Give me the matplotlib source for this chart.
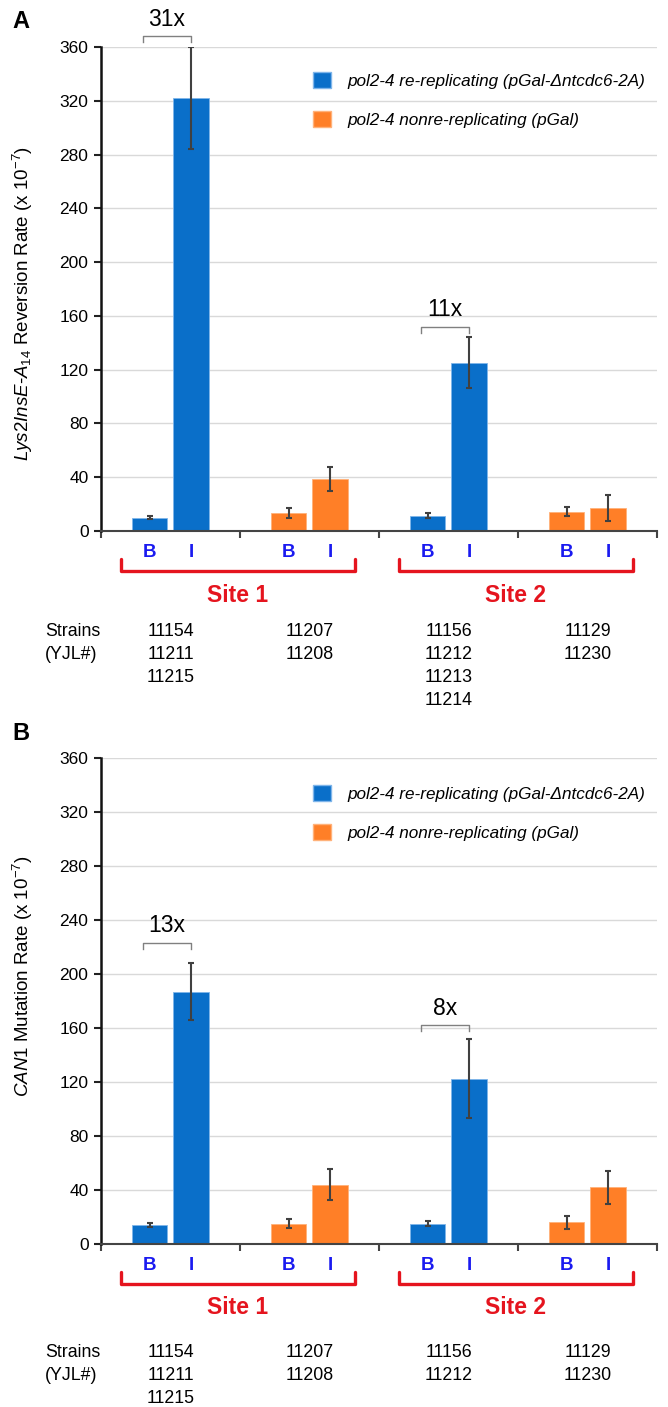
"""
Lys2InsE-A14 reversion and CAN1 mutation rates, re-replicating vs nonre-replicating pol2-4
"""

import numpy as np
import matplotlib.pyplot as plt
import matplotlib.transforms as mtransforms
from matplotlib.patches import Patch

plt.rcParams['font.family'] = ['Liberation Sans', 'DejaVu Sans']
plt.rcParams['mathtext.fontset'] = 'custom'
plt.rcParams['mathtext.rm'] = 'Liberation Sans'
plt.rcParams['mathtext.it'] = 'Liberation Sans:italic'
plt.rcParams['mathtext.bf'] = 'Liberation Sans:bold'

# ── Data ────────────────────────────────────────────────────────────────────────
bar_labels = ["B", "I"]
group_kind = ["re", "non", "re", "non"]          # strain type of each group
sites = ["Site 1", "Site 2"]

lys2_vals = [[10, 322], [13.5, 38.5], [11.5, 125], [14.5, 17]]
lys2_err  = [[1, 38], [3.5, 9], [1.7, 19], [3, 9.7]]
can1_vals = [[14, 187], [15, 44], [15, 122.5], [16, 42]]
can1_err  = [[1.5, 21], [3.2, 11.5], [1.7, 29], [5, 12]]

# fold-change labels: (text, group, bracket level)
lys2_folds = [("31x", 0, 368), ("11x", 2, 152)]
can1_folds = [("13x", 0, 223), ("8x", 2, 162)]

strains_A = [["11154", "11211", "11215"], ["11207", "11208"],
             ["11156", "11212", "11213", "11214"], ["11129", "11230"]]
strains_B = [["11154", "11211", "11215"], ["11207", "11208"],
             ["11156", "11212"], ["11129", "11230"]]

legend_labels = ["pol2-4 re-replicating (pGal-\u0394ntcdc6-2A)",
                 "pol2-4 nonre-replicating (pGal)"]

# ── Style ───────────────────────────────────────────────────────────────────────
BLUE = "#0A6FC9"
ORANGE = "#FF7F27"
RED = "#E5141E"
LABEL_BLUE = "#1A1AF0"
OFFS = [-0.151, 0.147]
WIDTH = 0.255
W, H = 668, 1407

fig = plt.figure(figsize=(W / 100, H / 100), dpi=100)


def px_below(ax, dy):
    """x in data units, y = axis bottom shifted down by dy pixels."""
    base = mtransforms.blended_transform_factory(ax.transData, ax.transAxes)
    return base + mtransforms.ScaledTranslation(0, -dy / 100, fig.dpi_scale_trans)


def panel(top_px, bottom_px, vals, errs, folds, ylabel, strains, letter, lab_y, leg_off, strains_dy):
    ax = fig.add_axes([101 / W, 1 - bottom_px / H, 556 / W, (bottom_px - top_px) / H])
    ax_h = bottom_px - top_px

    for g, (v, e) in enumerate(zip(vals, errs)):
        col = BLUE if group_kind[g] == "re" else ORANGE
        xs = [g + 0.5 + o for o in OFFS]
        ax.bar(xs, v, width=WIDTH, color=col, edgecolor="#7FB5EA" if col == BLUE else "#FFB27A",
               linewidth=0.6, zorder=2)
        ax.errorbar(xs, v, yerr=e, fmt="none", ecolor="#404040", elinewidth=1.5,
                    capsize=2.3, capthick=1.5, zorder=3)

    # fold-change brackets
    tick = 6 * 360 / ax_h
    for txt, g, lvl in folds:
        x0, x1 = g + 0.30, g + 0.5 + OFFS[1]
        ax.plot([x0, x0, x1, x1], [lvl - tick, lvl, lvl, lvl - tick], color="#808080",
                linewidth=1, clip_on=False, zorder=4)
        ax.annotate(txt, xy=((x0 + x1) / 2, lvl), xytext=(0, 4), textcoords="offset points",
                    ha="center", va="bottom", fontsize=16.5, annotation_clip=False)

    ax.set_xlim(0, 4)
    ax.set_ylim(0, 360)
    ax.set_yticks(np.arange(0, 361, 40))
    ax.set_xticks(np.arange(0, 5))
    ax.set_xticklabels([])
    ax.tick_params(axis="y", length=5, width=1.5, labelsize=12.5, pad=4, color="#222222")
    ax.tick_params(axis="x", length=5, width=1.5, color="#444444")
    ax.grid(axis="y", color="#D9D9D9", linewidth=1)
    ax.set_axisbelow(True)
    for s in ("top", "right"):
        ax.spines[s].set_visible(False)
    ax.spines["left"].set_linewidth(1.8)
    ax.spines["left"].set_color("#111111")
    ax.spines["bottom"].set_linewidth(1.5)
    ax.spines["bottom"].set_color("#444444")

    ax.set_ylabel(ylabel, fontsize=13.5)
    ax.yaxis.set_label_coords(-0.118, lab_y)

    handles = [Patch(facecolor=BLUE, edgecolor="#7FB5EA"), Patch(facecolor=ORANGE, edgecolor="#FFB27A")]
    ax.legend(handles, legend_labels, loc="upper left",
              bbox_to_anchor=(0.381, 1 - leg_off / ax_h), frameon=False,
              prop={"style": "italic", "size": 12.3}, handlelength=1.05, handleheight=1.05,
              handletextpad=0.95, labelspacing=1.33, borderpad=0, borderaxespad=0)

    # B / I labels under the bars
    for g in range(4):
        for o, lab in zip(OFFS, bar_labels):
            ax.text(g + 0.5 + o, 0, lab, transform=px_below(ax, 21), ha="center", va="center",
                    color=LABEL_BLUE, fontsize=13.5, fontweight="bold")

    # red site brackets
    bt = mtransforms.blended_transform_factory(ax.transData, ax.transAxes)
    for i, site in enumerate(sites):
        x0, x1 = 2 * i + 0.145, 2 * i + 1.825
        ys = [-28 / ax_h, -40 / ax_h, -40 / ax_h, -28 / ax_h]
        ax.plot([x0, x0, x1, x1], ys, color=RED, linewidth=2.4, transform=bt,
                clip_on=False, solid_joinstyle="round", solid_capstyle="round")
        ax.text((x0 + x1) / 2, 0, site, transform=px_below(ax, 64), ha="center", va="center",
                color=RED, fontsize=16.5, fontweight="bold")

    # strain numbers
    ax.text(-0.405, 0, "Strains\n(YJL#)", transform=px_below(ax, strains_dy), ha="left", va="top",
            fontsize=12.8, linespacing=1.45)
    for g, names in enumerate(strains):
        ax.text(g + 0.5, 0, "\n".join(names), transform=px_below(ax, strains_dy), ha="center",
                va="top", fontsize=12.8, linespacing=1.45)

    fig.text(12 / W, 1 - (top_px - 25) / H, letter, fontsize=17, fontweight="bold",
             ha="left", va="center")
    return ax


panel(47, 531, lys2_vals, lys2_err, lys2_folds,
      r"$\it{Lys2InsE}$-$\it{A}_{\it{14}}$ Reversion Rate (x 10$^{\mathrm{-7}}$)",
      strains_A, "A", 0.47, 25, 92)
panel(758, 1244, can1_vals, can1_err, can1_folds,
      r"$\it{CAN1}$ Mutation Rate (x 10$^{\mathrm{-7}}$)",
      strains_B, "B", 0.55, 27, 100)

fig.savefig("out.png", dpi=100)
